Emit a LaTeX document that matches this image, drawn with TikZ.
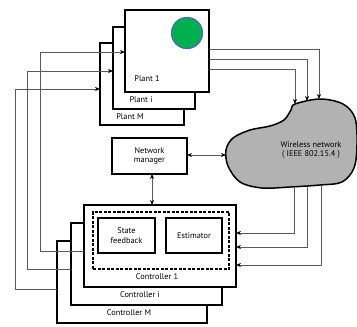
\documentclass[tikz,border=0pt]{standalone}
\usepackage{fontspec}
\setmainfont{PT Sans}
\usetikzlibrary{arrows.meta}
\begin{document}
\begin{tikzpicture}[x=1pt,y=-1pt,
  box/.style={draw=black, line width=2.2pt, fill=white, rectangle, anchor=north west, inner sep=0pt, outer sep=0pt},
  inbox/.style={draw=black, line width=2pt, fill=white, rectangle, anchor=north west, inner sep=0pt, outer sep=0pt, align=center, font=\fontsize{8.3}{9.5}\selectfont},
  conn/.style={draw=black!65, line width=0.75pt},
  arr/.style={-{Stealth[length=5pt,width=4pt,black]}},
  darr/.style={{Stealth[length=5pt,width=4pt,black]}-{Stealth[length=5pt,width=4pt,black]}},
  lbl/.style={font=\fontsize{8.3}{9.5}\selectfont, align=center, inner sep=0pt}]
\useasboundingbox (0,0) rectangle (357,327);

% plants
\node[box, minimum width=84pt, minimum height=82pt] (pM) at (100,43) {};
\node[box, minimum width=82pt, minimum height=82pt] (pi) at (113,27) {};
\node[box, minimum width=84pt, minimum height=82pt] (p1) at (125,10) {};
\node[circle, draw={rgb,255:red,79;green,110;blue,170}, line width=1.3pt, fill={rgb,255:red,0;green,176;blue,80}, minimum size=31pt, inner sep=0pt] (dot) at (187,33) {};
\node[lbl] (lp1) at (147,79) {Plant 1};
\node[lbl] (lpi) at (141,100) {Plant i};
\node[lbl] (lpM) at (130,117) {Plant M};

% controllers
\node[box, minimum width=150pt, minimum height=82pt] (cM) at (57,241) {};
\node[box, minimum width=151pt, minimum height=82pt] (ci) at (71,223) {};
\node[box, minimum width=152pt, minimum height=82pt] (c1) at (84,205) {};
\node[draw=black, line width=1.7pt, dash pattern=on 3pt off 1.5pt, rectangle, anchor=north west, minimum width=136pt, minimum height=57pt, inner sep=0pt, outer sep=0pt] (dsh) at (93,212) {};
\node[inbox, minimum width=57pt, minimum height=35pt] (sf) at (98,218) {State\\feedback};
\node[inbox, minimum width=56pt, minimum height=35pt] (est) at (166,218) {Estimator};
\node[lbl] (lc1) at (157,277) {Controller 1};
\node[lbl] (lci) at (140,295) {Controller i};
\node[lbl] (lcM) at (129,313) {Controller M};

% network manager
\node[inbox, line width=2.2pt, minimum width=75pt, minimum height=36pt] (nm) at (112,138) {Network\\manager};

% cloud
\draw[line width=1.5pt, fill=black!30] plot[smooth cycle, tension=0.55] coordinates {
 (295,104) (320,99) (343,104) (355,118) (357,145) (354,168) (342,182) (320,185) (290,187) (262,188) (240,182) (228,166) (226,150) (233,138) (250,130) (270,126) (284,120) (291,110)};
\node[lbl] (wl) at (311,150) {Wireless network\\( IEEE 802.15.4 )};
\coordinate (w1) at (295,104);
\coordinate (w2) at (307,101);
\coordinate (w3) at (319,99);
\coordinate (b1) at (294,187);
\coordinate (b2) at (307,187);
\coordinate (b3) at (321,185);
\coordinate (wl0) at (226,155);

% controller -> plant
\draw[conn, arr] (c1.west |- 0,251) -- (40,251) -- (40,52) -- (p1.west |- 0,52);
\draw[conn, arr] (ci.west |- 0,269) -- (27,269) -- (27,71) -- (pi.west |- 0,71);
\draw[conn, arr] (cM.west |- 0,289) -- (15,289) -- (15,89) -- (pM.west |- 0,89);

% plant -> network
\draw[conn, arr] (p1.east |- 0,49) -| (w3);
\draw[conn, arr] (p1.east |- 0,59) -| (w2);
\draw[conn, arr] (p1.east |- 0,69) -| (w1);

% network -> controller
\draw[conn, arr] (b1) |- (c1.east |- 0,233);
\draw[conn, arr] (b2) |- (c1.east |- 0,247);
\draw[conn, arr] (b3) |- (c1.east |- 0,265);

% manager links
\draw[conn, darr] (nm.east |- 0,155) -- (wl0);
\draw[conn, darr] (152,174) -- (152,205);
\end{tikzpicture}
\end{document}
